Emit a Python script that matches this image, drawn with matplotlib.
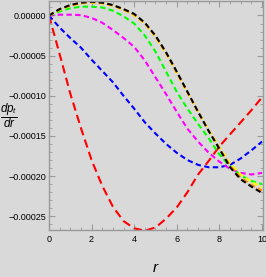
import matplotlib
matplotlib.use("Agg")
import matplotlib.pyplot as plt
import numpy as np
from matplotlib.ticker import MultipleLocator, FormatStrFormatter

# radial coordinate samples
r = np.arange(0, 10.01, 0.5)

# dp_t/dr values (units of 1e-4)
red = [0, -0.48, -0.97, -1.40, -1.80, -2.12, -2.38, -2.56, -2.65, -2.68, -2.64,
       -2.53, -2.39, -2.20, -1.98, -1.81, -1.63, -1.48, -1.33, -1.18, -1.02]
blue = [0, -0.15, -0.28, -0.40, -0.55, -0.69, -0.83, -1.00, -1.16, -1.33, -1.47,
        -1.60, -1.71, -1.80, -1.86, -1.89, -1.89, -1.86, -1.78, -1.68, -1.57]
magenta = [0, 0.01, 0.01, 0.005, -0.03, -0.09, -0.18, -0.28, -0.39, -0.56, -0.77,
           -0.98, -1.20, -1.41, -1.57, -1.71, -1.82, -1.91, -1.96, -1.98, -1.96]
green = [0, 0.05, 0.09, 0.11, 0.11, 0.10, 0.06, -0.01, -0.10, -0.25, -0.45,
         -0.70, -0.95, -1.16, -1.35, -1.53, -1.73, -1.88, -1.99, -2.06, -2.10]
yellow = [0, 0.07, 0.12, 0.15, 0.16, 0.15, 0.12, 0.07, 0.00, -0.10, -0.27,
          -0.48, -0.72, -0.96, -1.20, -1.43, -1.64, -1.84, -1.98, -2.07, -2.14]
orange = [0, 0.075, 0.125, 0.155, 0.165, 0.155, 0.125, 0.075, 0.01, -0.095, -0.26,
          -0.47, -0.71, -0.955, -1.20, -1.435, -1.65, -1.87, -2.02, -2.11, -2.18]
black = [0, 0.08, 0.13, 0.16, 0.17, 0.16, 0.13, 0.08, 0.02, -0.09, -0.25,
         -0.46, -0.70, -0.95, -1.20, -1.44, -1.66, -1.89, -2.04, -2.13, -2.21]

BG = "#d9d9d9"
FRAME = "#9a9a9a"

plt.rcParams["font.family"] = ["Liberation Sans Narrow", "Liberation Sans", "DejaVu Sans"]
plt.rcParams["mathtext.fontset"] = "custom"
plt.rcParams["mathtext.it"] = "Liberation Sans:italic"
plt.rcParams["mathtext.rm"] = "Liberation Sans"

fig = plt.figure(figsize=(2.66, 2.77), dpi=100, facecolor=BG)
ax = fig.add_axes([0.184, 0.170, 0.805, 0.828], facecolor=BG)

series = [
    (red, "#ff0000", (4.0, 2.2)),
    (blue, "#0000ff", (2.6, 1.6)),
    (magenta, "#ff00ff", (2.6, 1.6)),
    (green, "#00ff00", (2.6, 1.6)),
    (yellow, "#ffff00", (2.6, 1.6)),
    (orange, "#ff8c00", (2.6, 1.6)),
    (black, "#000000", (2.6, 1.6)),
]
for vals, col, dash in series:
    ax.plot(r, np.array(vals) * 1e-4, color=col, lw=1.5, dashes=dash)

ax.set_xlim(0, 10.05)
ax.set_ylim(-0.000267, 0.0000186)

ax.xaxis.set_major_locator(MultipleLocator(2))
ax.xaxis.set_minor_locator(MultipleLocator(0.5))
ax.yaxis.set_major_locator(MultipleLocator(0.00005))
ax.yaxis.set_minor_locator(MultipleLocator(0.00001))
ax.xaxis.set_major_formatter(FormatStrFormatter("%d"))
ax.yaxis.set_major_formatter(
    matplotlib.ticker.FuncFormatter(lambda v, p: ("%.5f" % v).replace("-", "\u2212")))

ax.tick_params(which="both", direction="in", top=True, right=True, color=FRAME,
               labelsize=6.5, pad=2)
ax.tick_params(axis="x", pad=4)
ax.tick_params(which="major", length=4, width=0.8)
ax.tick_params(which="minor", length=2, width=0.6)
for s in ax.spines.values():
    s.set_color(FRAME)
    s.set_linewidth(1.0)

ax.set_xlabel(r"$r$", fontsize=11, labelpad=12)
fig.text(0.032, 0.58, r"$\frac{dp_t}{dr}$", fontsize=12, ha="center", va="center")

fig.savefig("out.png", dpi=100, facecolor=BG)
